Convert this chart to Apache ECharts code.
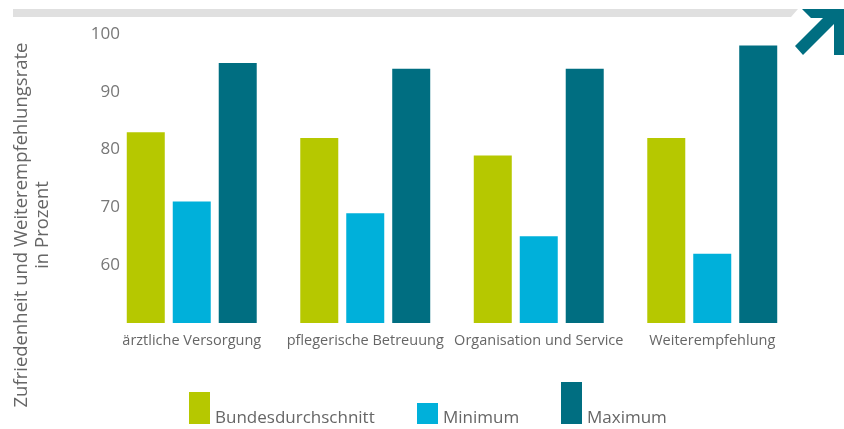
<!DOCTYPE html>
<html><head><meta charset="utf-8">
<script src="https://cdn.jsdelivr.net/npm/echarts@6/dist/echarts.min.js"></script>
<style>html,body{margin:0;padding:0;background:#fff}#c{width:844px;height:429px}</style>
</head><body><div id="c"></div>
<script>
const categories = ['ärztliche Versorgung', 'pflegerische Betreuung', 'Organisation und Service', 'Weiterempfehlung'];
const bundesdurchschnitt = [83, 82, 79, 82];
const minimum = [71, 69, 65, 62];
const maximum = [95, 94, 94, 98];
const seriesNames = ['Bundesdurchschnitt', 'Minimum', 'Maximum'];
const yTitle = ['Zufriedenheit und Weiterempfehlungsrate', 'in Prozent'];

const colors = ['#b6c800', '#00b0da', '#006e81'];
const font = '"Open Sans", sans-serif';
const chart = echarts.init(document.getElementById('c'));
function legendFor(i, left, top, h, pad) {
  return {
    data: [seriesNames[i]], left: left, top: top, padding: 0,
    orient: 'horizontal', icon: 'rect', itemWidth: 21, itemHeight: h, itemGap: 0,
    selectedMode: false,
    formatter: '{t|{name}}',
    textStyle: { fontFamily: font, fontSize: 17, color: '#666',
      rich: { t: { fontFamily: font, fontSize: 17, color: '#666', padding: [pad, 0, 0, 0] } } }
  };
}
chart.setOption({
  animation: false,
  grid: { left: 105, right: 45, top: 34, bottom: 106 },
  legend: [
    legendFor(0, 189, 392, 32, 20),
    legendFor(1, 417, 403, 21, 10),
    legendFor(2, 561, 382, 42, 30)
  ],
  xAxis: {
    type: 'category', data: categories,
    axisLine: { show: false }, axisTick: { show: false },
    axisLabel: { fontFamily: font, fontSize: 14.5, color: '#666', margin: 10, interval: 0 }
  },
  yAxis: {
    type: 'value', min: 50, max: 100, interval: 10,
    axisLine: { show: false }, axisTick: { show: false }, splitLine: { show: false },
    axisLabel: { fontFamily: font, fontSize: 17, color: '#777', margin: -15, showMinLabel: false }
  },
  series: [
    { name: seriesNames[0], type: 'bar', data: bundesdurchschnitt, itemStyle: { color: colors[0] }, barWidth: 38, barGap: '21%' },
    { name: seriesNames[1], type: 'bar', data: minimum, itemStyle: { color: colors[1] }, barWidth: 38, barGap: '21%' },
    { name: seriesNames[2], type: 'bar', data: maximum, itemStyle: { color: colors[2] }, barWidth: 38, barGap: '21%' }
  ],
  graphic: [
    { type: 'polygon', shape: { points: [[13,9],[798,9],[791,17],[13,17]] }, style: { fill: '#e0e0e0' }, silent: true },
    { type: 'polygon', shape: { points: [[802,9],[846,9],[846,55],[834,55],[834,24],[803,55],[795,46],[823,18],[811,18]] }, style: { fill: '#006e81' }, silent: true },
    { type: 'text', x: 32, y: 225, rotation: Math.PI / 2,
      style: { text: yTitle.join('\n'), fontFamily: font, fontSize: 18.5, fill: '#666', align: 'center', verticalAlign: 'middle', lineHeight: 21 } }
  ]
});
</script></body></html>
